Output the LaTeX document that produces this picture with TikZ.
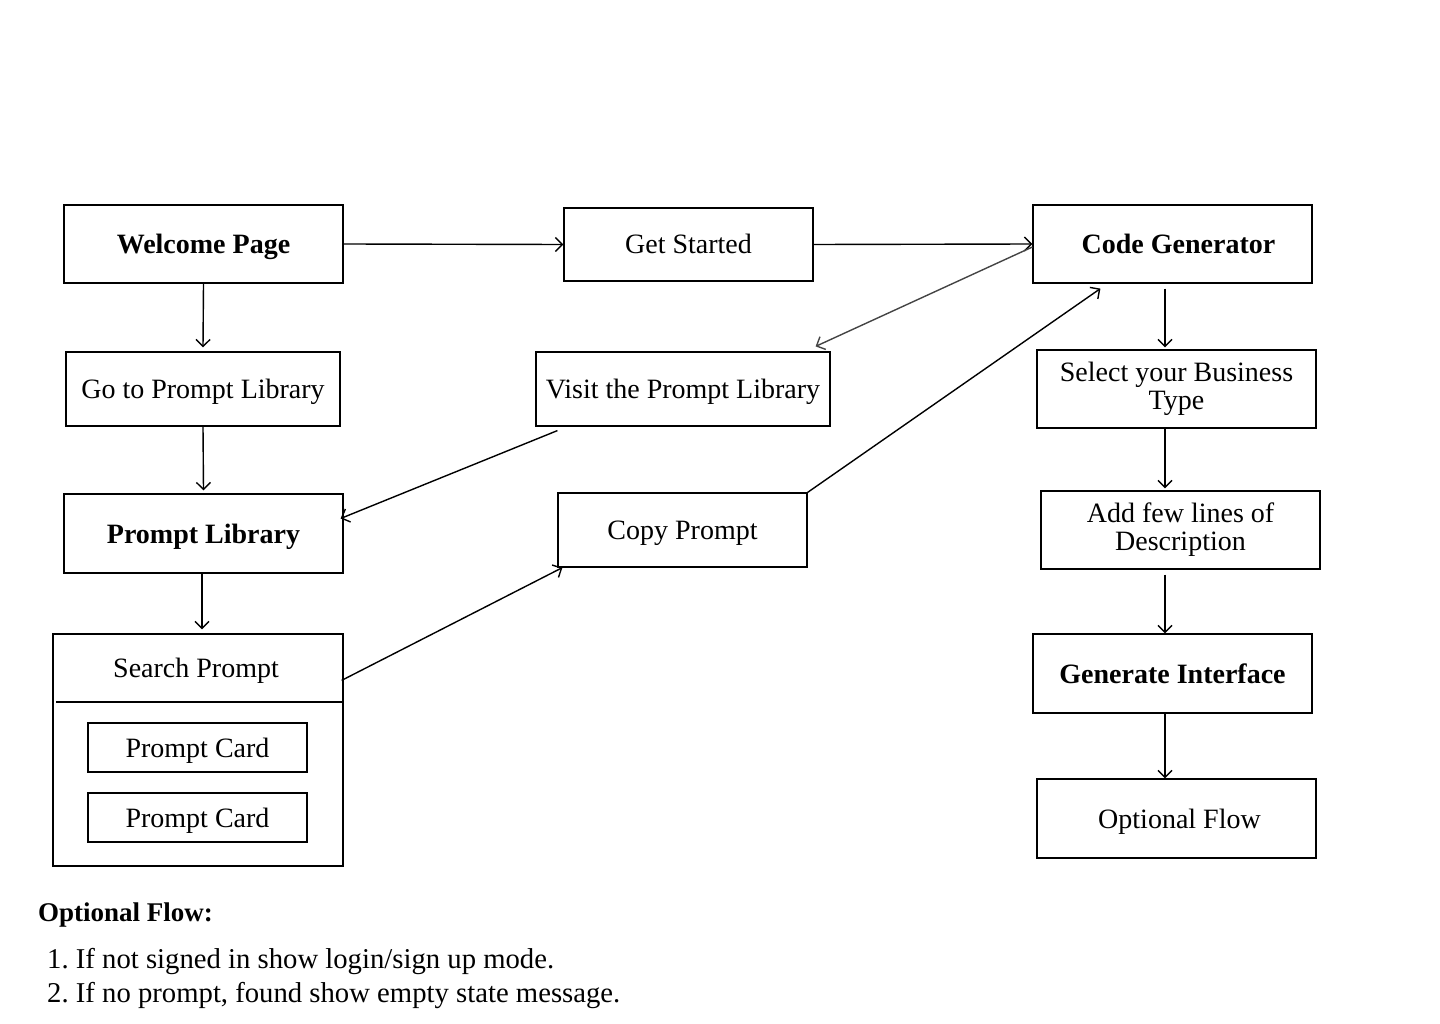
\documentclass[tikz,border=0pt]{standalone}
\usepackage{fontspec}
\usepackage{tikz}
\usetikzlibrary{arrows.meta}
\setmainfont{Liberation Serif}
\definecolor{linkgray}{HTML}{444444}

\begin{document}
\begin{tikzpicture}[x=1pt, y=-1pt,
    box/.style={draw, line width=1.2pt, inner sep=0pt, align=center,
        minimum width=279pt, minimum height=78pt,
        font=\fontsize{28}{28}\selectfont},
    oneline/.style={text height=19pt, text depth=0pt},
    card/.style={draw, line width=1.2pt, inner sep=0pt, oneline,
        minimum width=219pt, minimum height=49pt,
        font=\fontsize{28}{28}\selectfont},
    arr/.style={line width=1.4pt, -{Straight Barb[length=7pt, width=14pt]}},
    note/.style={anchor=base west, inner sep=0pt, font=\fontsize{28.7}{29}\selectfont}]
    \useasboundingbox (0,0) rectangle (1440,1024);

    \coordinate (spine) at (1165,0);

    % left column
    \node [box, oneline] (welcome) at (203.5,244) {\textbf{Welcome Page}};
    \node [box, oneline, minimum width=274pt, minimum height=74pt] (goto) at (203,389) {Go to Prompt Library};
    \node [box, oneline, minimum height=79pt] (library) at (203.5,533.5) {\textbf{Prompt Library}};
    \node [draw, line width=1.2pt, minimum width=290pt, minimum height=232pt, inner sep=0pt] (searchbox) at (198,750) {};
    \node [oneline, font=\fontsize{28}{28}\selectfont] (search) at (196,668) {Search Prompt};
    \draw [line width=1.2pt] (56,702) -- (343,702);
    \node [card] (cardA) at (197.5,747.5) {Prompt Card};
    \node [card] (cardB) at (197.5,817.5) {Prompt Card};

    % middle column
    \node [box, oneline, minimum width=249pt, minimum height=73pt] (started) at (688.5,244.5) {Get Started};
    \node [box, oneline, minimum width=294pt, minimum height=74pt] (visit) at (683,389) {Visit the Prompt Library};
    \node [box, oneline, minimum width=249pt, minimum height=74pt] (copy) at (682.5,530) {Copy Prompt};

    % right column
    \node [box, oneline] (codegen) at (1172.5,244) {\hspace*{12pt}\textbf{Code Generator}};
    \node [box] (select) at (1176.5,389) {Select your Business\\Type};
    \node [box] (describe) at (1180.5,530) {Add few lines of\\Description};
    \node [box, oneline, minimum height=79pt] (generate) at (1172.5,673.5) {\textbf{Generate Interface}};
    \node [box, oneline, minimum height=79pt] (optional) at (1176.5,818.5) {\hspace*{6pt}Optional Flow};

    % notes
    \node [anchor=base west, inner sep=0pt, font=\fontsize{27}{27}\selectfont] (notehead) at (38,921) {\textbf{Optional Flow:}};
    \node [note] (noteA) at (47,968) {1.\ If not signed in show login/sign up mode.};
    \node [note] (noteB) at (47,1002) {2.\ If no prompt, found show empty state message.};

    \draw [arr] (welcome.east) -- (started.west);
    \draw [arr] (started.east) -- (codegen.west);
    \draw [arr, draw=linkgray] ([yshift=-3pt]codegen.west) -- ([xshift=-15pt, yshift=5pt]visit.north east);
    \draw [arr] (welcome.south) -- ([yshift=4pt]goto.north);
    \draw [arr] (goto.south) -- ([yshift=3pt]library.north);
    \draw [arr] ([xshift=22pt, yshift=-4pt]visit.south west) -- ([xshift=-3pt, yshift=15pt]library.east);
    \draw [arr] ([xshift=-1.5pt]library.south) -- ([xshift=-1.5pt, yshift=4pt]library.south |- searchbox.north);
    \draw [arr] ([xshift=-2pt, yshift=-47pt]searchbox.north east) -- ([xshift=5pt]copy.south west);
    \draw [arr] (copy.north east) -- ([xshift=68pt, yshift=-5pt]codegen.south west);
    \draw [arr] ([yshift=-5pt]codegen.south -| spine) -- ([yshift=2pt]select.north -| spine);
    \draw [arr] (select.south -| spine) -- ([yshift=2pt]describe.north -| spine);
    \draw [arr] ([yshift=-5pt]describe.south -| spine) -- (generate.north -| spine);
    \draw [arr] (generate.south -| spine) -- (optional.north -| spine);
\end{tikzpicture}
\end{document}
